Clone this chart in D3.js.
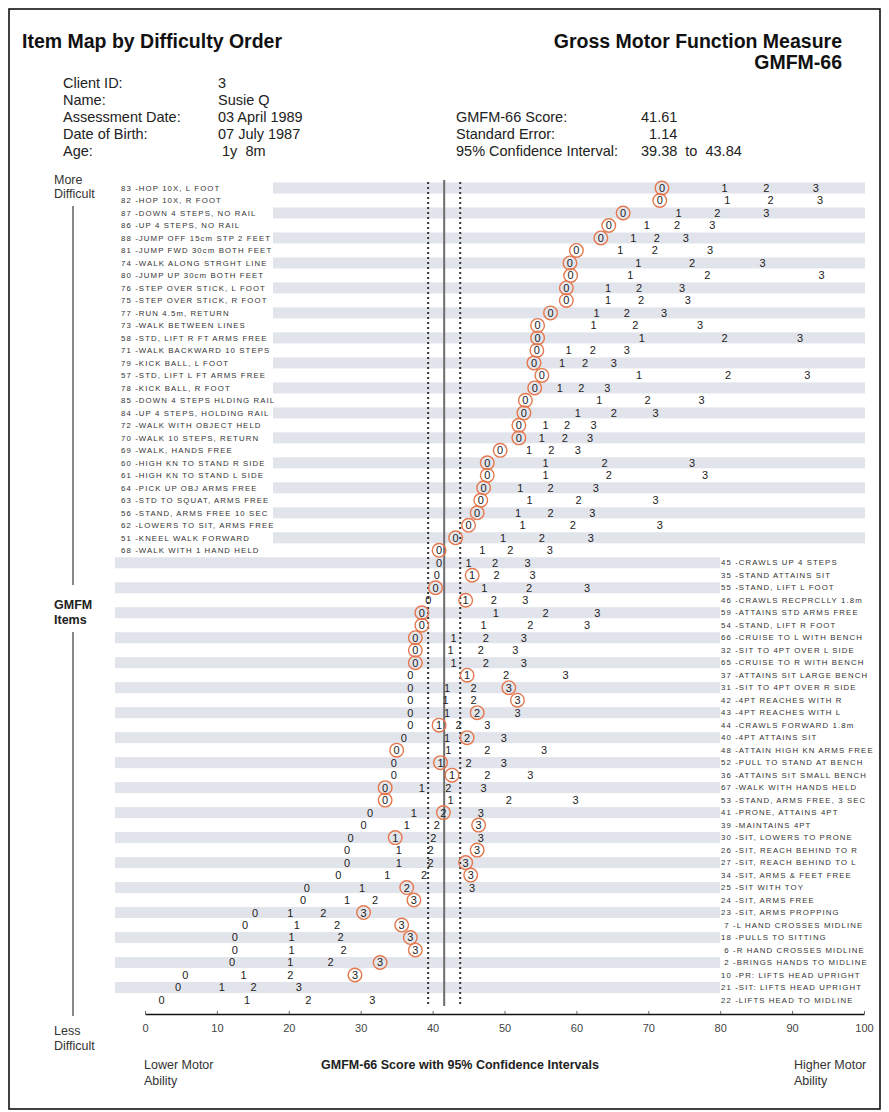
<!DOCTYPE html>
<html><head><meta charset="utf-8">
<script src="https://cdn.jsdelivr.net/npm/d3@7"></script>
<style>
body{margin:0;background:#fff;}
text{font-family:"Liberation Sans",Arial,sans-serif;}
</style></head><body>
<svg id="c" width="889" height="1112"></svg>
<script>
const items = ["83 -HOP 10X, L FOOT","82 -HOP 10X, R FOOT","87 -DOWN 4 STEPS, NO RAIL","86 -UP 4 STEPS, NO RAIL","88 -JUMP OFF 15cm STP 2 FEET","81 -JUMP FWD 30cm BOTH FEET","74 -WALK ALONG STRGHT LINE","80 -JUMP UP 30cm BOTH FEET","76 -STEP OVER STICK, L FOOT","75 -STEP OVER STICK, R FOOT","77 -RUN 4.5m, RETURN","73 -WALK BETWEEN LINES","58 -STD, LIFT R FT ARMS FREE","71 -WALK BACKWARD 10 STEPS","79 -KICK BALL, L FOOT","57 -STD, LIFT L FT ARMS FREE","78 -KICK BALL, R FOOT","85 -DOWN 4 STEPS HLDING RAIL","84 -UP 4 STEPS, HOLDING RAIL","72 -WALK WITH OBJECT HELD","70 -WALK 10 STEPS, RETURN","69 -WALK, HANDS FREE","60 -HIGH KN TO STAND R SIDE","61 -HIGH KN TO STAND L SIDE","64 -PICK UP OBJ ARMS FREE","63 -STD TO SQUAT, ARMS FREE","56 -STAND, ARMS FREE 10 SEC","62 -LOWERS TO SIT, ARMS FREE","51 -KNEEL WALK FORWARD","68 -WALK WITH 1 HAND HELD",
"45 -CRAWLS UP 4 STEPS","35 -STAND ATTAINS SIT","55 -STAND, LIFT L FOOT","46 -CRAWLS RECPRCLLY 1.8m","59 -ATTAINS STD ARMS FREE","54 -STAND, LIFT R FOOT","66 -CRUISE TO L WITH BENCH","32 -SIT TO 4PT OVER L SIDE","65 -CRUISE TO R WITH BENCH","37 -ATTAINS SIT LARGE BENCH","31 -SIT TO 4PT OVER R SIDE","42 -4PT REACHES WITH R","43 -4PT REACHES WITH L","44 -CRAWLS FORWARD 1.8m","40 -4PT ATTAINS SIT","48 -ATTAIN HIGH KN ARMS FREE","52 -PULL TO STAND AT BENCH","36 -ATTAINS SIT SMALL BENCH","67 -WALK WITH HANDS HELD","53 -STAND, ARMS FREE, 3 SEC","41 -PRONE, ATTAINS 4PT","39 -MAINTAINS 4PT","30 -SIT, LOWERS TO PRONE","26 -SIT, REACH BEHIND TO R","27 -SIT, REACH BEHIND TO L","34 -SIT, ARMS & FEET FREE","25 -SIT WITH TOY","24 -SIT, ARMS FREE","23 -SIT, ARMS PROPPING"," 7 -L HAND CROSSES MIDLINE","18 -PULLS TO SITTING"," 6 -R HAND CROSSES MIDLINE"," 2 -BRINGS HANDS TO MIDLINE","10 -PR: LIFTS HEAD UPRIGHT","21 -SIT: LIFTS HEAD UPRIGHT","22 -LIFTS HEAD TO MIDLINE"];

// Positions (GMFM-66 score units) of the category labels 0,1,2,3 for each item
const cat0 = [71.9,71.6,66.5,64.5,63.4,60.0,59.1,59.2,58.6,58.6,56.4,54.6,54.6,54.5,54.1,55.2,54.2,52.9,52.7,52.0,52.0,49.4,47.6,47.6,47.1,46.7,46.2,45.0,43.2,40.9,
40.9,40.6,40.4,39.4,38.5,38.5,37.6,37.6,37.6,36.9,36.9,36.9,36.9,36.9,36.0,35.0,34.6,34.6,33.4,33.4,31.3,30.4,28.6,28.1,28.1,26.9,22.5,22.0,15.3,13.9,12.5,12.5,12.1,5.6,4.6,2.3];
const cat1 = [80.6,81.0,74.2,69.8,67.9,66.1,68.6,67.5,64.4,64.4,62.8,62.4,69.1,58.9,58.0,68.7,57.7,63.2,60.2,55.7,55.2,53.4,55.7,55.7,52.2,53.5,51.9,52.5,49.8,46.9,
45.0,45.5,47.2,44.6,48.8,47.1,42.9,42.5,42.9,44.8,42.0,41.8,42.0,40.9,42.0,42.2,41.1,42.7,38.5,42.5,37.4,36.4,34.8,35.3,35.3,33.7,30.2,28.1,20.2,21.1,20.4,20.4,20.2,13.7,10.7,14.2];
const cat2 = [86.4,87.0,79.6,74.0,71.2,70.9,76.1,78.2,68.7,69.0,67.0,68.2,80.6,62.3,61.2,81.1,60.7,69.9,65.2,58.7,58.4,56.5,63.9,64.5,56.4,60.3,56.4,59.5,55.2,50.8,
48.7,48.9,53.4,48.5,55.7,53.6,47.4,46.7,47.4,50.2,45.7,45.7,46.2,43.6,44.8,47.6,45.0,47.6,42.2,50.6,41.5,40.6,40.1,39.7,39.7,38.8,36.4,32.0,24.8,26.7,27.2,27.6,25.8,20.2,15.1,22.7];
const cat3 = [93.3,93.9,86.4,78.9,75.2,78.6,85.9,94.1,74.7,75.5,72.2,77.2,91.1,67.0,65.2,92.1,64.3,77.4,71.0,62.4,61.9,60.2,76.1,77.9,62.7,71.0,62.2,71.6,62.0,56.3,
53.2,53.9,61.5,52.9,62.9,61.5,52.7,51.5,52.7,58.5,50.6,51.8,51.8,47.6,49.9,55.5,49.9,53.6,47.1,59.9,46.7,46.4,46.7,46.2,44.6,45.3,45.5,37.4,30.4,35.7,36.9,37.6,32.7,29.2,21.4,31.6];
// Observed (circled) score per item; null = not circled
const observed = [0,0,0,0,0,0,0,0,0,0,0,0,0,0,0,0,0,0,0,0,0,0,0,0,0,0,0,0,0,0,
null,1,0,1,0,0,0,0,0,1,3,3,2,1,2,0,1,1,0,0,2,3,1,3,3,3,2,3,3,3,3,3,3,3,null,null];
const splitIndex = 30; // first item listed on the right-hand side
const tickValues = [0,10,20,30,40,50,60,70,80,90,100];
const score = 41.61, ciLow = 39.38, ciHigh = 43.84;

const headerLeft = [["Client ID:","3"],["Name:","Susie Q"],["Assessment Date:","03 April 1989"],["Date of Birth:","07 July 1987"],["Age:"," 1y  8m"]];
const headerRight = [["GMFM-66 Score:","41.61"],["Standard Error:","  1.14"],["95% Confidence Interval:","39.38  to  43.84"]];

const svg = d3.select("#c");
svg.append("rect").attr("width",889).attr("height",1112).attr("fill","#fff");
svg.append("rect").attr("x",9).attr("y",9).attr("width",871).attr("height",1100)
  .attr("fill","none").attr("stroke","#111").attr("stroke-width",1.6);

const x = d3.scaleLinear().domain([0,100]).range([145,864]);
const y = d3.scalePoint().domain(d3.range(items.length)).range([188,1000]);

// Header
svg.append("text").attr("x",22).attr("y",48).attr("font-size",19.5).attr("font-weight","bold").attr("fill","#111").text("Item Map by Difficulty Order");
svg.append("text").attr("x",842).attr("y",48).attr("text-anchor","end").attr("font-size",19.5).attr("font-weight","bold").attr("fill","#111").text("Gross Motor Function Measure");
svg.append("text").attr("x",842).attr("y",69).attr("text-anchor","end").attr("font-size",19.5).attr("font-weight","bold").attr("fill","#111").text("GMFM-66");
headerLeft.forEach((d,i)=>{
  svg.append("text").attr("x",63).attr("y",88+i*17).attr("font-size",14.5).attr("fill","#222").text(d[0]);
  svg.append("text").attr("x",218).attr("y",88+i*17).attr("font-size",14.5).attr("fill","#222").style("white-space","pre").text(d[1]);
});
headerRight.forEach((d,i)=>{
  svg.append("text").attr("x",456).attr("y",122+i*17).attr("font-size",14.5).attr("fill","#222").text(d[0]);
  svg.append("text").attr("x",641).attr("y",122+i*17).attr("font-size",14.5).attr("fill","#222").style("white-space","pre").text(d[1]);
});

// Stripes
const rows = d3.range(items.length);
svg.append("g").selectAll("rect").data(rows.filter(i=>i%2===0)).join("rect")
  .attr("x",i=> i<splitIndex ? 273 : 115)
  .attr("width",i=> i<splitIndex ? 592 : 605)
  .attr("y",i=>y(i)-5.5).attr("height",11)
  .attr("fill","#e2e4ec");

// Item labels
svg.append("g").selectAll("text").data(rows).join("text")
  .attr("x",i=> i<splitIndex ? 121 : 721)
  .attr("y",i=>y(i)).attr("dy","0.35em")
  .attr("font-size",7.8).attr("letter-spacing",1.1).attr("fill","#333").style("white-space","pre")
  .text(i=>items[i]);

// Score and CI lines
const yTop = y(0)-6, yBot = y(items.length-1)+6;
svg.append("line").attr("x1",x(score)).attr("x2",x(score)).attr("y1",yTop-2).attr("y2",yBot)
  .attr("stroke","#6d6d6d").attr("stroke-width",2);
[ciLow,ciHigh].forEach(v=>{
  svg.append("line").attr("x1",x(v)).attr("x2",x(v)).attr("y1",yTop).attr("y2",yBot)
    .attr("stroke","#333").attr("stroke-width",2).attr("stroke-dasharray","2,3");
});

// Category numbers
const cats = [cat0,cat1,cat2,cat3];
const pts = [];
rows.forEach(i=>cats.forEach((c,k)=>pts.push({i,k,v:c[i]})));
const g = svg.append("g");
g.selectAll("circle").data(pts.filter(p=>observed[p.i]===p.k)).join("circle")
  .attr("cx",p=>x(p.v)).attr("cy",p=>y(p.i)).attr("r",6.8)
  .attr("fill","none").attr("stroke","#e4774d").attr("stroke-width",1.4);
g.selectAll("text").data(pts).join("text")
  .attr("x",p=>x(p.v)).attr("y",p=>y(p.i)).attr("dy","0.36em")
  .attr("text-anchor","middle").attr("font-size",11).attr("fill","#222")
  .text(p=>p.k);

// Axis
const axis = d3.axisBottom(x).tickValues(tickValues).tickSizeInner(-3).tickSizeOuter(0).tickPadding(10);
const ax = svg.append("g").attr("transform","translate(0,1014)").call(axis);
ax.select(".domain").attr("stroke","#111").attr("stroke-width",1.6);
ax.selectAll(".tick line").attr("stroke","#666");
ax.selectAll(".tick text").attr("font-size",11).attr("fill","#444").attr("font-family","Liberation Sans, Arial, sans-serif");

// Left side axis label
const lx = 54;
svg.append("text").attr("x",lx).attr("y",184).attr("font-size",12.5).attr("fill","#333").text("More");
svg.append("text").attr("x",lx).attr("y",198).attr("font-size",12.5).attr("fill","#333").text("Difficult");
svg.append("line").attr("x1",73).attr("x2",73).attr("y1",206).attr("y2",585).attr("stroke","#888").attr("stroke-width",2);
svg.append("text").attr("x",lx).attr("y",609).attr("font-size",12.5).attr("font-weight","bold").attr("fill","#222").text("GMFM");
svg.append("text").attr("x",lx).attr("y",624).attr("font-size",12.5).attr("font-weight","bold").attr("fill","#222").text("Items");
svg.append("line").attr("x1",73).attr("x2",73).attr("y1",632).attr("y2",1016).attr("stroke","#888").attr("stroke-width",2);
svg.append("text").attr("x",lx).attr("y",1035).attr("font-size",12.5).attr("fill","#333").text("Less");
svg.append("text").attr("x",lx).attr("y",1050).attr("font-size",12.5).attr("fill","#333").text("Difficult");

// Bottom labels
svg.append("text").attr("x",144).attr("y",1069).attr("font-size",12.5).attr("fill","#333").text("Lower Motor");
svg.append("text").attr("x",144).attr("y",1085).attr("font-size",12.5).attr("fill","#333").text("Ability");
svg.append("text").attr("x",460).attr("y",1069).attr("text-anchor","middle").attr("font-size",12.5).attr("font-weight","bold").attr("fill","#222").text("GMFM-66 Score with 95% Confidence Intervals");
svg.append("text").attr("x",794).attr("y",1069).attr("font-size",12.5).attr("fill","#333").text("Higher Motor");
svg.append("text").attr("x",794).attr("y",1085).attr("font-size",12.5).attr("fill","#333").text("Ability");
</script>
</body></html>
